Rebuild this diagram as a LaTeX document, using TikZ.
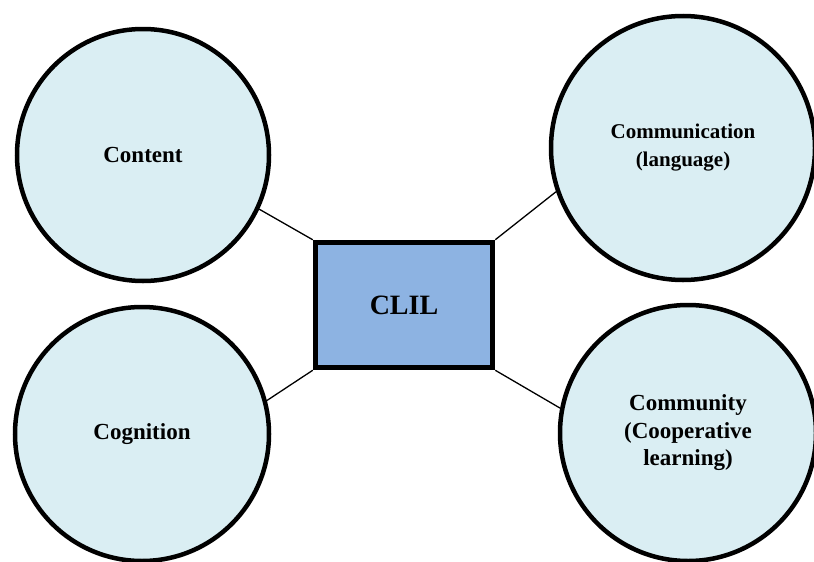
\documentclass[tikz,border=0pt]{standalone}
\usepackage{fontspec}
\setmainfont{Liberation Serif}
\definecolor{circfill}{HTML}{DAEEF3}
\definecolor{boxfill}{HTML}{8DB3E2}
\begin{document}
\begin{tikzpicture}[x=1pt,y=-1pt,
  topic/.style={circle,draw=black,line width=4.5pt,fill=circfill,minimum size=#1,inner sep=0pt,align=center,font=\fontsize{23}{27.5}\selectfont\bfseries},
  core/.style={rectangle,draw=black,line width=5.5pt,fill=boxfill,minimum width=177pt,minimum height=125pt,inner sep=0pt,font=\fontsize{28}{32}\selectfont\bfseries},
  link/.style={draw=black,line width=1.3pt}]
\useasboundingbox (0,0) rectangle (814,562);
\node[topic=252pt] (content) at (143,155) {Content};
\node[topic=264pt,font=\fontsize{21}{28}\selectfont\bfseries] (comm) at (683,148) {Communication\\(language)};
\node[topic=254pt] (cogn) at (142,434) {Cognition};
\node[topic=256pt] (commu) at (688,433) {Community\\(Cooperative\\learning)};
\node[core] (clil) at (404,305) {CLIL};
\draw[link] (clil.north west) -- (content.335);
\draw[link] (clil.north east) -- (comm.199.5);
\draw[link] (clil.south west) -- (cogn.15.5);
\draw[link] (clil.south east) -- (commu.169.7);
\end{tikzpicture}
\end{document}
